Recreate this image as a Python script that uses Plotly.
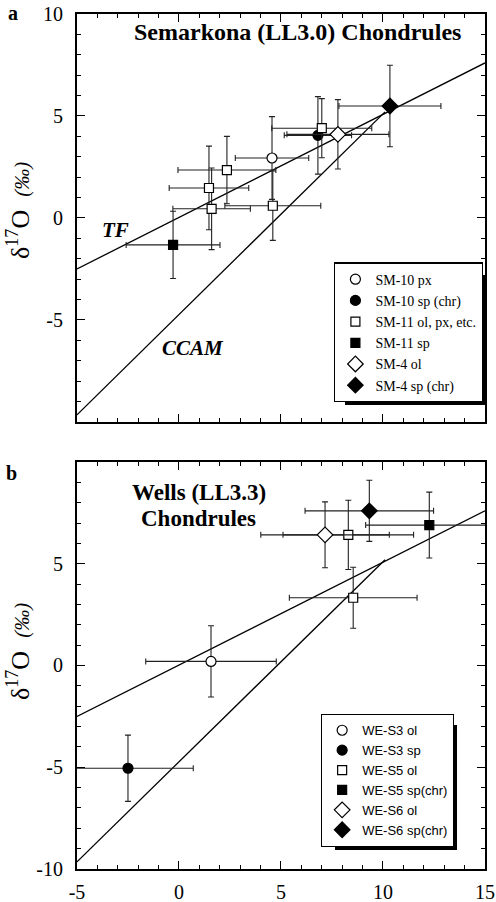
import plotly.graph_objects as go

# ---------------- data ----------------
# Reference lines (shared by both panels)
tf_x = [-5, 15]
tf_y = [-2.5, 7.6]
ccam_x = [-5, 10.1]
ccam_y = [-9.65, 5.2]

# Panel a: Semarkona (LL3.0)
a_names = ["SM-10 px", "SM-10 sp (chr)", "SM-11 ol, px, etc.", "SM-11 sp", "SM-4 ol", "SM-4 sp (chr)"]
a_x = [[4.56], [6.81], [7.0, 2.35, 1.47, 1.6, 4.6], [-0.29], [7.79], [10.34]]
a_y = [[2.94], [4.05], [4.4, 2.35, 1.47, 0.45, 0.6], [-1.32], [4.1], [5.49]]
a_xerr = [[1.8], [1.65], [2.45, 2.4, 1.95, 1.9, 2.35], [2.3], [2.5], [2.5]]
a_yerr = [[2.03], [1.9], [1.45, 1.65, 2.05, 2.0, 1.7], [1.65], [1.7], [2.0]]

# Panel b: Wells (LL3.3)
b_names = ["WE-S3 ol", "WE-S3 sp", "WE-S5 ol", "WE-S5 sp(chr)", "WE-S6 ol", "WE-S6 sp(chr)"]
b_x = [[1.57], [-2.5], [8.3, 8.54], [12.27], [7.16], [9.33]]
b_y = [[0.2], [-5.05], [6.42, 3.33], [6.9], [6.42], [7.6]]
b_xerr = [[3.2], [3.2], [3.2, 3.13], [3.12], [3.15], [3.15]]
b_yerr = [[1.75], [1.63], [1.7, 1.5], [1.62], [1.62], [1.5]]

symbols = ["circle", "circle", "square", "square", "diamond", "diamond"]
fills = ["white", "black", "white", "black", "white", "black"]
sizes = [10, 10, 9, 9, 12, 12]

x_ticks = [-5, 0, 5, 10, 15]
a_yticks = [10, 5, 0, -5]
b_yticks = [5, 0, -5, -10]

SERIF = "Liberation Serif, Times New Roman, serif"
SANS = "Liberation Sans, Arial, sans-serif"

fig = go.Figure()

# lines
for xa, ya in [("x", "y"), ("x2", "y2")]:
    fig.add_trace(go.Scatter(x=tf_x, y=tf_y, mode="lines", line=dict(color="black", width=1.3),
                             showlegend=False, hoverinfo="skip", xaxis=xa, yaxis=ya))
    fig.add_trace(go.Scatter(x=ccam_x, y=ccam_y, mode="lines", line=dict(color="black", width=1.3),
                             showlegend=False, hoverinfo="skip", xaxis=xa, yaxis=ya))


def add_series(names, xs, ys, xe, ye, xa, ya, legend):
    for i, nm in enumerate(names):
        fig.add_trace(go.Scatter(
            x=xs[i], y=ys[i], mode="markers", name=nm, xaxis=xa, yaxis=ya, legend=legend,
            marker=dict(symbol=symbols[i], color=fills[i], size=sizes[i],
                        line=dict(color="black", width=1.2)),
            error_x=dict(type="data", array=xe[i], visible=True, color="#222", thickness=1.1, width=3),
            error_y=dict(type="data", array=ye[i], visible=True, color="#222", thickness=1.1, width=3),
        ))


add_series(a_names, a_x, a_y, a_xerr, a_yerr, "x", "y", "legend")
add_series(b_names, b_x, b_y, b_xerr, b_yerr, "x2", "y2", "legend2")

axis_common = dict(
    range=[-5, 15], showline=True, linewidth=2, linecolor="black", mirror="allticks",
    ticks="inside", ticklen=8, tickwidth=1.2, tickcolor="black",
    showgrid=False, zeroline=False, automargin=False,
    minor=dict(ticks="inside", ticklen=4, tickwidth=1, tickcolor="black", dtick=1, showgrid=False),
    tickfont=dict(family=SERIF, size=20, color="black"),
)

W, H = 496, 902

fig.update_layout(
    width=W, height=H, margin=dict(l=0, r=0, t=0, b=0, autoexpand=False),
    paper_bgcolor="white", plot_bgcolor="white",
    showlegend=True,
    xaxis=dict(axis_common, domain=[0.1552, 0.9778], anchor="y", tickvals=x_ticks, showticklabels=False),
    yaxis=dict(axis_common, range=[-10, 10], domain=[0.5322, 0.9845], anchor="x",
               tickvals=a_yticks, ticktext=[str(v) for v in a_yticks], ticklabelstandoff=8),
    xaxis2=dict(axis_common, domain=[0.1552, 0.9778], anchor="y2", tickvals=x_ticks,
                ticktext=[str(v) for v in x_ticks], ticklabelstandoff=4),
    yaxis2=dict(axis_common, range=[-10, 10], domain=[0.0366, 0.4878], anchor="x2",
                tickvals=b_yticks, ticktext=[str(v) for v in b_yticks], ticklabelstandoff=8),
    legend=dict(x=0.974, y=0.554, xanchor="right", yanchor="bottom",
                bgcolor="white", bordercolor="black", borderwidth=1.3,
                font=dict(family=SERIF, size=14, color="black"), tracegroupgap=0),
    legend2=dict(x=0.915, y=0.061, xanchor="right", yanchor="bottom",
                 bgcolor="white", bordercolor="black", borderwidth=1.3,
                 font=dict(family=SANS, size=13, color="black"), tracegroupgap=0),
)

# drop shadows behind the two legend boxes (only right/bottom strips stay visible)
for (l, t, r, b) in [(345, 275, 486, 405), (335, 725, 457, 850)]:
    fig.add_shape(type="rect", xref="paper", yref="paper",
                  x0=l / W, x1=r / W, y0=1 - b / H, y1=1 - t / H,
                  fillcolor="black", line=dict(width=0), layer="above")

ytitle = "δ<sup>17</sup>O  <span style='font-size:21px'><i>(‰)</i></span>"

ann = [
    dict(text="<b>a</b>", x=0.026, y=0.9856, font=dict(size=20)),
    dict(text="<b>b</b>", x=0.024, y=0.4756, font=dict(size=20)),
    dict(text="<b>Semarkona (LL3.0) Chondrules</b>", x=0.599, y=0.9645, font=dict(size=24)),
    dict(text="<b>Wells (LL3.3)</b>", x=0.401, y=0.4545, font=dict(size=23)),
    dict(text="<b>Chondrules</b>", x=0.401, y=0.4250, font=dict(size=23)),
    dict(text="<b><i>TF</i></b>", x=0.232, y=0.745, font=dict(size=21)),
    dict(text="<b><i>CCAM</i></b>", x=0.389, y=0.614, font=dict(size=21)),
    dict(text=ytitle, x=0.036, y=0.767, textangle=-90, font=dict(size=26)),
    dict(text=ytitle, x=0.036, y=0.278, textangle=-90, font=dict(size=26)),
]
for a in ann:
    a["font"].update(family=SERIF, color="black")
    fig.add_annotation(xref="paper", yref="paper", showarrow=False, xanchor="center", yanchor="middle", **a)

fig.write_html("out.html")
